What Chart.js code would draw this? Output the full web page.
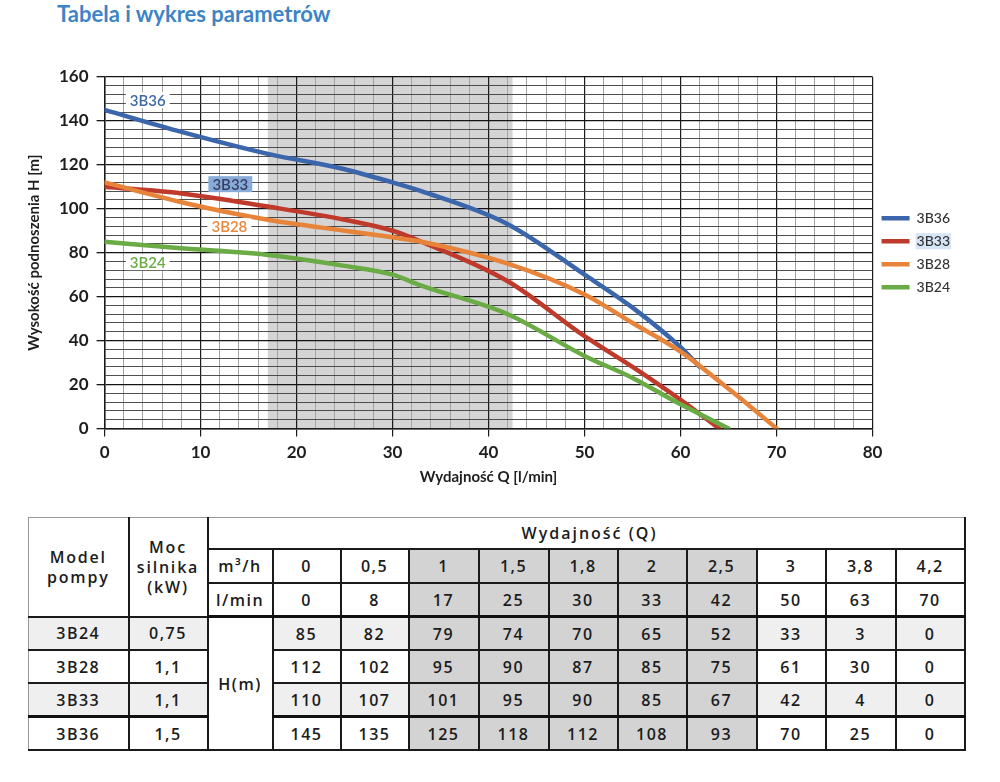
<!DOCTYPE html>
<html lang="pl">
<head>
<meta charset="utf-8">
<script src="https://cdn.jsdelivr.net/npm/chart.js@4.4.1/dist/chart.umd.min.js"></script>
<style>
  body { margin: 0; background: #fff; font-family: Lato, sans-serif; }
  #title { position: absolute; left: 57px; top: 0; font: 700 22px Lato, sans-serif; line-height: 28px; color: #3d84c6; }
  #wrap { position: absolute; left: 0; top: 58px; width: 1000px; height: 438px; }
  #tbl { position: absolute; left: 28px; top: 517px; width: 937px; border-collapse: collapse; table-layout: fixed;
         font: 600 16px "Open Sans", sans-serif; color: #1c1c1c; letter-spacing: 1.5px; }
  #tbl td { text-align: center; padding: 0; border: 2px solid #1a1a1a; height: 31px; }
  #tbl td.g { background: #d3d3d3; }
  #tbl td.l { background: #efefef; }
  #tbl tr.first td { border-top: 1px solid #999; }
  #tbl tr.thick td { border-bottom: 3px solid #111; }
  #tbl td.head { line-height: 20px; letter-spacing: 1.8px; }
  #tbl td.wyd { text-align: left; padding-left: 313px; letter-spacing: 2px; border-left: 2px solid #1a1a1a; }
  #tbl td.hm { background: #fff; }
</style>
</head>
<body>
<div id="title">Tabela i wykres parametrów</div>
<div id="wrap"><canvas id="c"></canvas></div>
<table id="tbl"></table>
<script>
// curves: flow Q [l/min] and head H [m]
const q3B36 = [0, 8, 17, 25, 30, 33, 42, 50, 55, 60, 62];
const h3B36 = [145, 135, 125, 118, 112, 108, 93, 70, 55, 37, 28];
const q3B33 = [0, 8, 17, 25, 30, 33, 42, 50, 55, 60, 64];
const h3B33 = [110, 107, 101, 95, 90, 85, 67, 42, 28, 13, 0];
const q3B28 = [0, 8, 17, 25, 30, 33, 42, 50, 55, 60, 65, 70];
const h3B28 = [112, 103, 95, 90, 87, 85, 75, 61, 48, 35, 18, 0];
const q3B24 = [0, 8, 17, 25, 30, 33, 42, 50, 55, 60, 65];
const h3B24 = [85, 82, 79, 74, 70, 65, 52, 33, 23, 11, 0];

// shaded working range on the chart
const shadeFrom = 17;
const shadeTo = 42.5;

// table
const models = ['3B24', '3B28', '3B33', '3B36'];
const powers = ['0,75', '1,1', '1,1', '1,5'];
const flowM3h = ['0', '0,5', '1', '1,5', '1,8', '2', '2,5', '3', '3,8', '4,2'];
const flowLmin = ['0', '8', '17', '25', '30', '33', '42', '50', '63', '70'];
const tableH = [
  [85, 82, 79, 74, 70, 65, 52, 33, 3, 0],
  [112, 102, 95, 90, 87, 85, 75, 61, 30, 0],
  [110, 107, 101, 95, 90, 85, 67, 42, 4, 0],
  [145, 135, 125, 118, 112, 108, 93, 70, 25, 0]
];
const grayCols = [2, 3, 4, 5, 6];

function pts(q, h) {
  return q.map((x, i) => ({x: x, y: h[i]}));
}

const ink = '#1e1e1e';

const bandPlugin = {
  id: 'band',
  beforeDraw(chart) {
    const {ctx, chartArea, scales} = chart;
    const x0 = scales.x.getPixelForValue(shadeFrom);
    const x1 = scales.x.getPixelForValue(shadeTo);
    ctx.save();
    ctx.fillStyle = '#d4d4d4';
    ctx.fillRect(x0, chartArea.top, x1 - x0, chartArea.bottom - chartArea.top);
    // selection-like highlight behind "3B33" in the legend
    const boxes = chart.legend.legendHitBoxes;
    if (boxes && boxes[1]) {
      const b = boxes[1];
      const tx = b.left + 28 + 7;
      ctx.font = '500 14px Lato';
      const w = ctx.measureText('3B33').width;
      ctx.fillStyle = '#d6e5f6';
      ctx.fillRect(tx - 1, b.top - 1, w + 2, b.height + 2);
    }
    ctx.restore();
  }
};

const curveLabels = [
  {text: '3B36', x: 4.5, y: 149.5, color: '#3e68aa', bg: '#ffffff'},
  {text: '3B33', x: 13.1, y: 111.2, color: '#3a3d63', bg: '#88acd9'},
  {text: '3B28', x: 13.0, y: 92, color: '#e9873a', bg: '#ffffff'},
  {text: '3B24', x: 4.5, y: 75.7, color: '#6aac45', bg: '#ffffff'}
];

const labelPlugin = {
  id: 'curveLabels',
  afterDatasetsDraw(chart) {
    const {ctx, scales} = chart;
    ctx.save();
    ctx.font = '600 15px Lato';
    ctx.textAlign = 'center';
    ctx.textBaseline = 'middle';
    curveLabels.forEach(l => {
      const px = scales.x.getPixelForValue(l.x);
      const py = scales.y.getPixelForValue(l.y);
      const w = ctx.measureText(l.text).width;
      ctx.fillStyle = l.bg;
      ctx.fillRect(px - w / 2 - 4, py - 8, w + 8, 16);
      ctx.fillStyle = l.color;
      ctx.fillText(l.text, px, py + 1);
    });
    ctx.restore();
  }
};

function line(label, data, color, order) {
  return {
    label: label,
    data: data,
    borderColor: color,
    backgroundColor: color,
    borderWidth: 4.5,
    borderCapStyle: 'round',
    borderJoinStyle: 'round',
    pointRadius: 0,
    tension: 0.4,
    cubicInterpolationMode: 'monotone',
    fill: false,
    order: order
  };
}

new Chart(document.getElementById('c'), {
  type: 'line',
  data: {
    datasets: [
      line('3B36', pts(q3B36, h3B36), '#3b66ab', 4),
      line('3B33', pts(q3B33, h3B33), '#bf3a2b', 3),
      line('3B28', pts(q3B28, h3B28), '#e8843a', 1),
      line('3B24', pts(q3B24, h3B24), '#6aab46', 2)
    ]
  },
  options: {
    responsive: true,
    maintainAspectRatio: false,
    animation: false,
    layout: {padding: {left: 25, right: 40, top: 19, bottom: 8}},
    plugins: {
      tooltip: {enabled: false},
      legend: {
        position: 'right',
        align: 'center',
        fullSize: false,
        labels: {
          usePointStyle: true,
          pointStyle: 'line',
          pointStyleWidth: 28,
          padding: 9,
          color: '#333',
          font: {family: 'Lato', size: 14, weight: '500'},
          sort: (a, b) => a.datasetIndex - b.datasetIndex
        }
      }
    },
    scales: {
      x: {
        type: 'linear',
        min: 0,
        max: 80,
        ticks: {
          stepSize: 2,
          autoSkip: false,
          maxRotation: 0,
          padding: 9,
          color: ink,
          font: {family: 'Lato', size: 17, weight: 'bold', lineHeight: 0.8},
          callback: v => (v % 10 === 0 ? v : '')
        },
        grid: {
          color: c => (c.tick && c.tick.value % 10 === 0 ? '#1a1a1a' : '#a3a3a3'),
          lineWidth: c => (c.tick && c.tick.value % 10 === 0 ? 1.2 : 1),
          tickColor: c => (c.tick && c.tick.value % 10 === 0 ? '#1a1a1a' : 'rgba(0,0,0,0)'),
          tickLength: 8
        },
        border: {color: '#1a1a1a', width: 1.5},
        title: {
          display: true,
          text: 'Wydajność Q [l/min]',
          color: ink,
          font: {family: 'Lato', size: 15, weight: 'bold'},
          padding: {top: 0, bottom: 2}
        }
      },
      y: {
        min: 0,
        max: 160,
        ticks: {
          stepSize: 4,
          autoSkip: false,
          padding: 8,
          color: ink,
          font: {family: 'Lato', size: 17, weight: 'bold'},
          callback: v => (v % 20 === 0 ? v : '')
        },
        grid: {
          color: c => (c.tick && c.tick.value % 20 === 0 ? '#141414' : '#3c3c3c'),
          lineWidth: c => (c.tick && c.tick.value % 20 === 0 ? 1.3 : 0.9),
          tickColor: c => (c.tick && c.tick.value % 20 === 0 ? '#1a1a1a' : 'rgba(0,0,0,0)'),
          tickLength: 8
        },
        border: {color: '#1a1a1a', width: 1.5},
        title: {
          display: true,
          text: 'Wysokość podnoszenia H [m]',
          color: ink,
          font: {family: 'Lato', size: 15, weight: 'bold'},
          padding: {top: 0, bottom: 8}
        }
      }
    }
  },
  plugins: [bandPlugin, labelPlugin]
});

// build the table
const tbl = document.getElementById('tbl');
let html = '<colgroup><col style="width:100px"><col style="width:79px"><col style="width:65px">';
[68, 68, 70, 70, 69, 69, 70, 69, 70, 69].forEach(w => { html += '<col style="width:' + w + 'px">'; });
html += '</colgroup>';
html += '<tr class="first"><td rowspan="3" class="head" style="border-left:1px solid #999">Model<br>pompy</td>' +
        '<td rowspan="3" class="head">Moc<br>silnika<br>(kW)</td>' +
        '<td colspan="11" class="wyd" style="height:30px">Wydajność (Q)</td></tr>';
html += '<tr><td style="height:32px">m³/h</td>' +
        flowM3h.map((v, i) => '<td' + (grayCols.includes(i) ? ' class="g"' : '') + '>' + v + '</td>').join('') + '</tr>';
html += '<tr class="thick"><td style="height:29px">l/min</td>' +
        flowLmin.map((v, i) => '<td' + (grayCols.includes(i) ? ' class="g"' : '') + '>' + v + '</td>').join('') + '</tr>';
models.forEach((m, r) => {
  const light = r % 2 === 0;
  const cls = light ? ' class="l"' : '';
  const bottom = r === 2 ? ' style="border-bottom:3px solid #111"' : '';
  html += '<tr' + bottom + '>';
  html += '<td' + cls + ' style="border-left:1px solid #999">' + m + '</td><td' + cls + '>' + powers[r] + '</td>';
  if (r === 0) html += '<td rowspan="4" class="hm">H(m)</td>';
  html += tableH[r].map((v, i) => {
    const c = grayCols.includes(i) ? ' class="g"' : cls;
    return '<td' + c + '>' + v + '</td>';
  }).join('');
  html += '</tr>';
});
tbl.innerHTML = html;
</script>
</body>
</html>
